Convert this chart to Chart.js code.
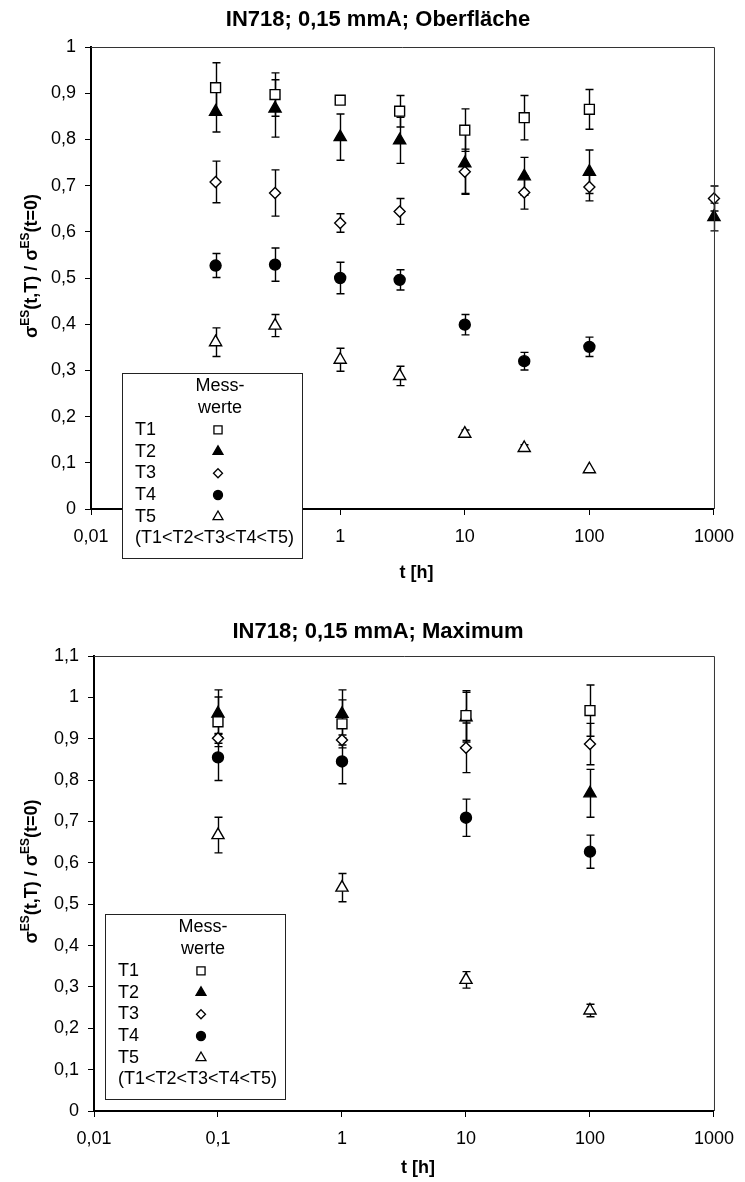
<!DOCTYPE html>
<html>
<head>
<meta charset="utf-8">
<script src="https://cdn.jsdelivr.net/npm/chart.js@4.4.1/dist/chart.umd.min.js"></script>
<style>
  body { margin: 0; background: #fff; }
  .panel { position: absolute; left: 0; width: 745px; height: 591px; }
</style>
</head>
<body>
<div class="panel" style="top:0"><canvas id="chartTop" width="745" height="591"></canvas></div>
<div class="panel" style="top:591px"><canvas id="chartBottom" width="745" height="591"></canvas></div>
<script>
'use strict';

// Oberflaeche: Auslagerungszeiten in h
var timesTop = [0.1, 0.3, 1, 3, 10, 30, 100, 1000];
var t1Top = [0.912, 0.897, 0.885, 0.861, 0.820, 0.847, 0.865, null];
var t1TopErr = [0.054, 0.047, 0, 0.034, 0.046, 0.048, 0.043, null];
var t2Top = [0.860, 0.867, 0.805, 0.798, 0.748, 0.720, 0.730, 0.632];
var t2TopErr = [0.044, 0.062, 0.050, 0.050, 0.065, 0.041, 0.047, 0.030];
var t3Top = [0.708, 0.684, 0.619, 0.644, 0.730, 0.685, 0.697, 0.672];
var t3TopErr = [0.045, 0.050, 0.020, 0.028, 0.049, 0.036, 0.030, 0.027];
var t4Top = [0.527, 0.529, 0.500, 0.496, 0.399, 0.320, 0.351, null];
var t4TopErr = [0.026, 0.036, 0.034, 0.022, 0.022, 0.019, 0.021, null];
var t5Top = [0.361, 0.397, 0.323, 0.288, 0.163, 0.132, 0.086, null];
var t5TopErr = [0.031, 0.024, 0.025, 0.021, 0.008, 0.007, 0, null];

// Maximum
var timesBottom = [0.1, 1, 10, 100];
var t1Bottom = [0.941, 0.936, 0.956, 0.968];
var t1BottomErr = [0.060, 0.058, 0.060, 0.062];
var t2Bottom = [0.961, 0.960, 0.952, 0.768];
var t2BottomErr = [0.057, 0.058, 0.060, 0.058];
var t3Bottom = [0.901, 0.897, 0.878, 0.887];
var t3BottomErr = [0.012, 0.012, 0.060, 0.050];
var t4Bottom = [0.855, 0.845, 0.709, 0.627];
var t4BottomErr = [0.056, 0.054, 0.045, 0.040];
var t5Bottom = [0.667, 0.540, 0.317, 0.243];
var t5BottomErr = [0.043, 0.034, 0.020, 0.015];

var xTicks = [0.01, 0.1, 1, 10, 100, 1000];
var seriesNames = ['T1', 'T2', 'T3', 'T4', 'T5'];

var FONT = '"Liberation Sans", Arial, Helvetica, sans-serif';

var markerStyles = [
  { pointStyle: 'rect', radius: 7, fill: '#fff' },
  { pointStyle: 'triangle', radius: 7, fill: '#000' },
  { pointStyle: 'rectRot', radius: 5.5, fill: '#fff' },
  { pointStyle: 'circle', radius: 5.5, fill: '#000' },
  { pointStyle: 'triangle', radius: 7, fill: '#fff' }
];

Chart.defaults.font.family = FONT;
Chart.defaults.font.size = 18;
Chart.defaults.color = '#000';

function toPoints(times, vals, errs) {
  var pts = [];
  times.forEach(function (t, i) {
    if (vals[i] !== null) {
      pts.push({ x: t, y: vals[i], e: errs[i] || 0 });
    }
  });
  return pts;
}

function makeDatasets(times, series, errors) {
  return series.map(function (vals, i) {
    var m = markerStyles[i];
    return {
      label: seriesNames[i],
      data: toPoints(times, vals, errors[i]),
      pointStyle: m.pointStyle,
      pointRadius: m.radius,
      pointHoverRadius: m.radius,
      pointBackgroundColor: m.fill,
      pointBorderColor: '#000',
      pointBorderWidth: 1.4,
      showLine: false,
      clip: false
    };
  });
}

function commaNum(v) {
  var r = Math.round(v * 100) / 100;
  return String(r).replace('.', ',');
}

// own marker painter for the legend box
function drawMarker(ctx, style, x, y, r) {
  ctx.beginPath();
  if (style.pointStyle === 'rect') {
    var s = r * Math.SQRT1_2;
    ctx.rect(x - s, y - s, 2 * s, 2 * s);
  } else if (style.pointStyle === 'rectRot') {
    ctx.moveTo(x, y - r);
    ctx.lineTo(x + r, y);
    ctx.lineTo(x, y + r);
    ctx.lineTo(x - r, y);
    ctx.closePath();
  } else if (style.pointStyle === 'circle') {
    ctx.arc(x, y, r, 0, Math.PI * 2);
  } else {
    var a = 0;
    ctx.moveTo(x + Math.sin(a) * r, y - Math.cos(a) * r);
    a += 2 * Math.PI / 3;
    ctx.lineTo(x + Math.sin(a) * r, y - Math.cos(a) * r);
    a += 2 * Math.PI / 3;
    ctx.lineTo(x + Math.sin(a) * r, y - Math.cos(a) * r);
    ctx.closePath();
  }
  ctx.fillStyle = style.fill;
  ctx.fill();
  ctx.lineWidth = 1.3;
  ctx.strokeStyle = '#000';
  ctx.stroke();
}

function drawSigmaTitle(ctx, x, y) {
  var parts = [['\u03c3', 0], ['ES', 1], ['(t,T) / \u03c3', 0], ['ES', 1], ['(t=0)', 0]];
  var big = 'bold 18px ' + FONT;
  var small = 'bold 12px ' + FONT;
  var total = 0;
  parts.forEach(function (p) {
    ctx.font = p[1] ? small : big;
    p.push(ctx.measureText(p[0]).width);
    total += p[2];
  });
  ctx.save();
  ctx.translate(x, y);
  ctx.rotate(-Math.PI / 2);
  ctx.fillStyle = '#000';
  ctx.textAlign = 'left';
  ctx.textBaseline = 'alphabetic';
  var cx = -total / 2;
  parts.forEach(function (p) {
    ctx.font = p[1] ? small : big;
    ctx.fillText(p[0], cx, p[1] ? -8 : 0);
    cx += p[2];
  });
  ctx.restore();
}

var errorBars = {
  id: 'errorBars',
  beforeDatasetsDraw: function (chart) {
    var ctx = chart.ctx;
    var xs = chart.scales.x, ys = chart.scales.y;
    ctx.save();
    ctx.strokeStyle = '#000';
    ctx.lineWidth = 1.4;
    chart.data.datasets.forEach(function (ds) {
      ds.data.forEach(function (p) {
        if (!p.e) return;
        var px = Math.round(xs.getPixelForValue(p.x)) + 0.5;
        var yTop = ys.getPixelForValue(p.y + p.e);
        var yBot = ys.getPixelForValue(p.y - p.e);
        ctx.beginPath();
        ctx.moveTo(px, yTop);
        ctx.lineTo(px, yBot);
        ctx.moveTo(px - 4, yTop);
        ctx.lineTo(px + 4, yTop);
        ctx.moveTo(px - 4, yBot);
        ctx.lineTo(px + 4, yBot);
        ctx.stroke();
      });
    });
    ctx.restore();
  }
};

var frameAndLabels = {
  id: 'frameAndLabels',
  afterDraw: function (chart, args, opts) {
    var ctx = chart.ctx;
    var a = chart.chartArea;
    ctx.save();
    // thin frame on top and right
    ctx.strokeStyle = '#333';
    ctx.lineWidth = 1;
    ctx.beginPath();
    ctx.moveTo(a.left, a.top + 0.5);
    ctx.lineTo(a.right + 0.5, a.top + 0.5);
    ctx.lineTo(a.right + 0.5, a.bottom);
    ctx.stroke();

    ctx.fillStyle = '#000';
    ctx.textAlign = 'center';
    ctx.textBaseline = 'middle';
    ctx.font = 'bold 22px ' + FONT;
    ctx.fillText(opts.title, opts.titleX, opts.titleY);
    ctx.font = 'bold 18px ' + FONT;
    ctx.fillText('t [h]', (a.left + a.right) / 2 + 14, opts.xTitleY);

    drawSigmaTitle(ctx, 37, (a.top + a.bottom) / 2 - 12);

    // legend box
    var lx = a.left + opts.legendDx, ly = a.top + opts.legendDy;
    ctx.fillStyle = '#fff';
    ctx.fillRect(lx, ly, 180, 185);
    ctx.strokeStyle = '#222';
    ctx.lineWidth = 1;
    ctx.strokeRect(lx + 0.5, ly + 0.5, 180, 185);
    var pitch = 21.7;
    ctx.fillStyle = '#000';
    ctx.font = '18px ' + FONT;
    ctx.textAlign = 'center';
    ctx.fillText('Mess-', lx + 98, ly + 13.5);
    ctx.fillText('werte', lx + 98, ly + 13.5 + pitch);
    seriesNames.forEach(function (name, i) {
      var yy = ly + 13.5 + pitch * (i + 2);
      ctx.textAlign = 'left';
      ctx.fillStyle = '#000';
      ctx.fillText(name, lx + 13, yy);
      var m = markerStyles[i];
      drawMarker(ctx, m, lx + 96, yy, m.radius * 0.82);
    });
    ctx.fillStyle = '#000';
    ctx.textAlign = 'left';
    ctx.fillText('(T1<T2<T3<T4<T5)', lx + 13, ly + 13.5 + pitch * 7);
    ctx.restore();
  }
};

function makeChart(canvasId, times, series, errors, cfg) {
  return new Chart(document.getElementById(canvasId), {
    type: 'scatter',
    data: { datasets: makeDatasets(times, series, errors) },
    options: {
      responsive: false,
      animation: false,
      layout: { padding: { top: cfg.top, right: cfg.right, left: 0, bottom: 0 } },
      plugins: {
        legend: { display: false },
        tooltip: { enabled: false },
        frameAndLabels: cfg.labels
      },
      scales: {
        x: {
          type: 'logarithmic',
          min: 0.01,
          max: 1000,
          afterBuildTicks: function (scale) {
            scale.ticks = xTicks.map(function (v) { return { value: v }; });
          },
          afterFit: function (scale) { scale.height = cfg.xHeight; },
          ticks: {
            autoSkip: false,
            maxRotation: 0,
            padding: 11,
            callback: function (v) { return commaNum(v); }
          },
          grid: { display: true, drawOnChartArea: false, drawTicks: true, tickLength: 6, color: '#000', lineWidth: 1 },
          border: { display: true, color: '#000', width: 2 }
        },
        y: {
          min: 0,
          max: cfg.yMax,
          afterFit: function (scale) { scale.width = cfg.left; },
          ticks: {
            stepSize: 0.1,
            padding: 9,
            callback: function (v) { return commaNum(v); }
          },
          grid: { display: true, drawOnChartArea: false, drawTicks: true, tickLength: 6, color: '#000', lineWidth: 1 },
          border: { display: true, color: '#000', width: 2 }
        }
      }
    },
    plugins: [errorBars, frameAndLabels]
  });
}

makeChart('chartTop', timesTop,
  [t1Top, t2Top, t3Top, t4Top, t5Top],
  [t1TopErr, t2TopErr, t3TopErr, t4TopErr, t5TopErr],
  {
    top: 47, right: 23, left: 91, xHeight: 82, yMax: 1,
    labels: { title: 'IN718; 0,15 mmA; Oberfl\u00e4che', titleX: 378, titleY: 20, xTitleY: 573, legendDx: 31, legendDy: 326 }
  });

makeChart('chartBottom', timesBottom,
  [t1Bottom, t2Bottom, t3Bottom, t4Bottom, t5Bottom],
  [t1BottomErr, t2BottomErr, t3BottomErr, t4BottomErr, t5BottomErr],
  {
    top: 65, right: 25, left: 94, xHeight: 71, yMax: 1.1,
    labels: { title: 'IN718; 0,15 mmA; Maximum', titleX: 378, titleY: 41, xTitleY: 577, legendDx: 11, legendDy: 258 }
  });
</script>
</body>
</html>
